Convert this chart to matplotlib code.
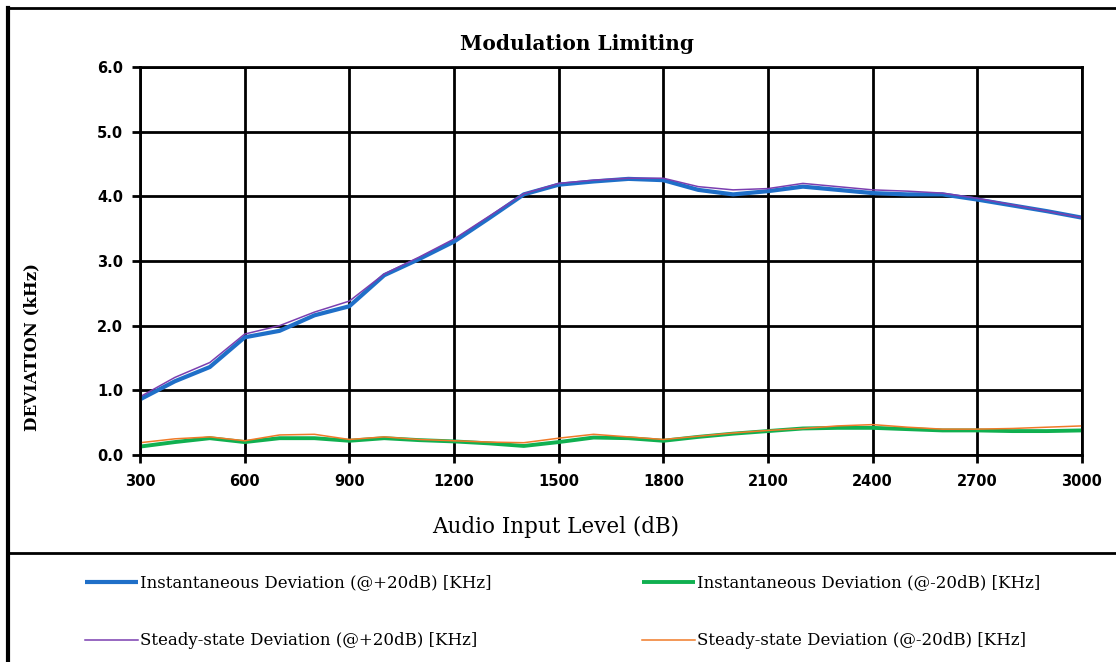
import matplotlib
matplotlib.use("Agg")
import numpy as np
import matplotlib.pyplot as plt
from matplotlib.lines import Line2D

# audio input level, one point every 100
level = list(range(300, 3001, 100))

inst_plus20 = [0.86, 1.14, 1.36, 1.82, 1.92, 2.16, 2.30, 2.78, 3.03, 3.30, 3.66, 4.03,
               4.18, 4.23, 4.27, 4.25, 4.10, 4.03, 4.08, 4.15, 4.10, 4.05, 4.03, 4.03,
               3.95, 3.86, 3.77, 3.67]
steady_plus20 = [0.90, 1.20, 1.43, 1.87, 2.00, 2.21, 2.38, 2.80, 3.06, 3.34, 3.69, 4.04,
                 4.20, 4.25, 4.28, 4.28, 4.15, 4.10, 4.12, 4.20, 4.15, 4.10, 4.08, 4.05,
                 3.97, 3.87, 3.77, 3.67]
inst_minus20 = [0.13, 0.20, 0.26, 0.20, 0.26, 0.26, 0.22, 0.26, 0.23, 0.21, 0.18, 0.14,
                0.20, 0.27, 0.26, 0.22, 0.28, 0.33, 0.37, 0.41, 0.42, 0.42, 0.40, 0.38,
                0.38, 0.37, 0.37, 0.38]
steady_minus20 = [0.19, 0.25, 0.28, 0.22, 0.31, 0.32, 0.24, 0.28, 0.24, 0.22, 0.20, 0.19,
                  0.26, 0.32, 0.28, 0.24, 0.29, 0.34, 0.38, 0.41, 0.45, 0.47, 0.43, 0.40,
                  0.40, 0.41, 0.43, 0.45]

x_ticks = list(range(300, 3001, 300))
y_ticks = [0.0, 1.0, 2.0, 3.0, 4.0, 5.0, 6.0]

names = ['Instantaneous Deviation (@+20dB) [KHz]',
         'Steady-state Deviation (@+20dB) [KHz]',
         'Instantaneous Deviation (@-20dB) [KHz]',
         'Steady-state Deviation (@-20dB) [KHz]']

fig = plt.figure(figsize=(11.16, 6.62), dpi=100)
ax = fig.add_axes([140 / 1116, 1 - 455 / 662, (1082 - 140) / 1116, (455 - 67) / 662])

l_blue, = ax.plot(level, inst_plus20, color='#1f6fc8', lw=3.0, solid_capstyle='butt')
l_green, = ax.plot(level, inst_minus20, color='#10b050', lw=2.8, solid_capstyle='butt')
l_purple, = ax.plot(level, steady_plus20, color='#7b3fb0', lw=1.1)
l_orange, = ax.plot(level, steady_minus20, color='#f07a28', lw=1.1)

ax.set_xlim(300, 3000)
ax.set_ylim(0, 6)
ax.set_xticks(x_ticks)
ax.set_yticks(y_ticks)
ax.set_xticklabels([str(v) for v in x_ticks])
ax.set_yticklabels(['%.1f' % v for v in y_ticks])
ax.grid(True, color='black', lw=2.0)
ax.set_axisbelow(True)
for s in ax.spines.values():
    s.set_color('black')
    s.set_linewidth(2.0)
ax.tick_params(direction='out', length=6, width=2.0, color='black')
ax.tick_params(axis='x', pad=8)
ax.tick_params(axis='y', pad=6)
for lab in ax.get_xticklabels() + ax.get_yticklabels():
    lab.set_fontfamily('DejaVu Sans')
    lab.set_fontweight('bold')
    lab.set_fontsize(10.5)

fig.text(577 / 1116, 1 - 44 / 662, 'Modulation Limiting', ha='center', va='center',
         family='DejaVu Serif', weight='bold', fontsize=14.5)
fig.text(32 / 1116, 1 - 347 / 662, 'DEVIATION (kHz)', ha='center', va='center',
         rotation=90, family='DejaVu Serif', weight='bold', fontsize=12)
fig.text(556 / 1116, 1 - 527 / 662, 'Audio Input Level (dB)', ha='center', va='center',
         family='DejaVu Serif', fontsize=15.5)

# chart frame and legend box
fig.add_artist(Line2D([8 / 1116, 1], [1 - 8 / 662, 1 - 8 / 662], color='black', lw=2))
fig.add_artist(Line2D([8 / 1116, 8 / 1116], [0, 1 - 8 / 662], color='black', lw=3))
fig.add_artist(Line2D([8 / 1116, 1], [1 - 553 / 662, 1 - 553 / 662], color='black', lw=2))

fig.legend([l_blue, l_purple], names[:2], loc='center left',
           bbox_to_anchor=(70 / 1116, 1 - 612 / 662), frameon=False,
           handlelength=3.2, handletextpad=0.1, labelspacing=2.45,
           prop={'family': 'DejaVu Serif', 'size': 12})
fig.legend([l_green, l_orange], names[2:], loc='center left',
           bbox_to_anchor=(627 / 1116, 1 - 612 / 662), frameon=False,
           handlelength=3.2, handletextpad=0.1, labelspacing=2.45,
           prop={'family': 'DejaVu Serif', 'size': 12})

fig.savefig('out.png', dpi=100)
